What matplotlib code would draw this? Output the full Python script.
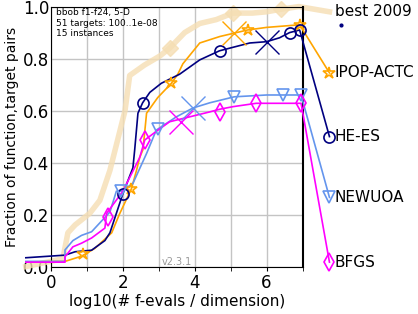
import matplotlib
matplotlib.use('Agg')
import matplotlib.pyplot as plt

# data (x: log10(#f-evals / dimension), y: fraction)
best_x = [-0.7, 0.33, 0.47, 0.67, 1.08, 1.36, 1.64, 1.86, 2.06, 2.19, 2.6, 3.03, 3.3,
          3.72, 4.14, 4.6, 5.06, 5.6, 6.0, 6.4, 6.9, 7.75]
best_y = [0.0, 0.03, 0.13, 0.16, 0.205, 0.255, 0.37, 0.49, 0.6, 0.735, 0.775, 0.81, 0.84,
          0.9, 0.935, 0.95, 0.975, 0.975, 0.98, 0.99, 1.0, 0.98]
best_mark_x = [3.3, 5.06, 6.4]
best_mark_y = [0.84, 0.975, 0.99]

ipop_x = [-0.7, 0.39, 0.85, 1.22, 1.69, 1.9, 2.24, 2.38, 2.47, 2.56, 2.66, 2.97, 3.35,
          3.53, 3.67, 4.14, 4.7, 5.47, 6.0, 6.92, 7.75]
ipop_y = [0.018, 0.02, 0.04, 0.07, 0.13, 0.2, 0.30, 0.37, 0.42, 0.45, 0.59, 0.65, 0.705,
          0.74, 0.78, 0.86, 0.885, 0.91, 0.92, 0.93, 0.745]
ipop_mark_x = [0.9, 2.24, 3.35, 5.47, 6.92, 7.75]
ipop_mark_y = [0.05, 0.30, 0.705, 0.91, 0.93, 0.745]

hees_x = [-0.7, 0.39, 0.67, 1.13, 1.5, 1.64, 2.0, 2.28, 2.33, 2.42, 2.55, 2.75, 3.07,
          3.58, 4.14, 4.69, 5.53, 6.0, 6.36, 6.64, 6.92, 7.75]
hees_y = [0.034, 0.044, 0.057, 0.063, 0.10, 0.13, 0.28, 0.38, 0.45, 0.59, 0.63, 0.67, 0.705,
          0.74, 0.795, 0.83, 0.86, 0.865, 0.88, 0.90, 0.91, 0.50]
hees_mark_x = [2.0, 2.55, 4.69, 6.64, 6.92, 7.75]
hees_mark_y = [0.28, 0.63, 0.83, 0.90, 0.91, 0.50]

newuoa_x = [-0.7, 0.39, 0.39, 0.61, 0.85, 1.13, 1.64, 1.82, 1.96, 2.28, 2.66, 2.93, 3.49,
            3.95, 4.42, 5.1, 6.0, 6.45, 6.96, 7.75]
newuoa_y = [0.02, 0.02, 0.064, 0.10, 0.12, 0.134, 0.21, 0.29, 0.29, 0.32, 0.435, 0.525, 0.576,
            0.61, 0.63, 0.653, 0.66, 0.66, 0.66, 0.266]
newuoa_mark_x = [1.96, 2.97, 5.1, 6.45, 6.96, 7.75]
newuoa_mark_y = [0.29, 0.53, 0.653, 0.66, 0.66, 0.266]

bfgs_x = [-0.7, 0.39, 0.39, 0.61, 0.85, 1.13, 1.5, 1.55, 2.0, 2.47, 2.61, 2.93, 3.3,
          3.86, 4.42, 4.69, 5.06, 5.71, 6.96, 7.75]
bfgs_y = [0.017, 0.017, 0.038, 0.076, 0.09, 0.11, 0.148, 0.205, 0.29, 0.42, 0.487, 0.52, 0.557,
          0.576, 0.595, 0.605, 0.615, 0.628, 0.628, 0.017]
bfgs_mark_x = [1.6, 2.61, 4.69, 5.71, 6.96, 7.75]
bfgs_mark_y = [0.19, 0.487, 0.595, 0.628, 0.628, 0.017]

# median markers (big crosses)
cross_x = [5.1, 6.0, 3.94, 3.63]
cross_y = [0.90, 0.865, 0.61, 0.557]

labels = ['best 2009', 'IPOP-ACTC', 'HE-ES', 'NEWUOA', 'BFGS']
label_y = [0.98, 0.745, 0.50, 0.266, 0.017]

fig = plt.figure(figsize=(4.18, 3.14), dpi=100)
ax = fig.add_axes([0.122, 0.151, 0.6017, 0.828])

ax.plot(best_x, best_y, color='wheat', lw=4, alpha=0.8, clip_on=False, zorder=1)
ax.plot(best_mark_x, best_mark_y, ls='none', marker='D', ms=8, color='wheat',
        alpha=0.8, clip_on=False, zorder=1)

series = [
    (ipop_x, ipop_y, ipop_mark_x, ipop_mark_y, 'orange', '*', 9),
    (hees_x, hees_y, hees_mark_x, hees_mark_y, 'navy', 'o', 8),
    (newuoa_x, newuoa_y, newuoa_mark_x, newuoa_mark_y, 'cornflowerblue', 'v', 8),
    (bfgs_x, bfgs_y, bfgs_mark_x, bfgs_mark_y, 'magenta', 'd', 9),
]
for xs, ys, mx, my, c, m, ms in series:
    ax.plot(xs, ys, color=c, lw=1.2, clip_on=False, zorder=3)
    ax.plot(mx, my, ls='none', marker=m, ms=ms, mfc='none', mec=c, mew=1.2,
            clip_on=False, zorder=4)

for (x, y), c in zip(zip(cross_x, cross_y), ['orange', 'navy', 'cornflowerblue', 'magenta']):
    ax.plot([x], [y], marker='x', ms=17, mew=1.0, color=c, ls='none', zorder=4)

ax.plot([8.06], [0.93], marker='o', ms=2, color='navy', ls='none', clip_on=False)

for lab, y in zip(labels, label_y):
    ax.text(7.9, y, lab, fontsize=11, va='center', ha='left')

ax.set_xlim(0, 7)
ax.set_ylim(0, 1)
ax.set_xticks([0, 2, 4, 6])
ax.set_xticks([1, 3, 5, 7], minor=True)
ax.set_yticks([0, 0.2, 0.4, 0.6, 0.8, 1.0])
ax.tick_params(labelsize=12)
ax.tick_params(axis='x', which='both', length=3, pad=2)
ax.tick_params(axis='y', length=0, pad=1)
ax.grid(True, which='both', color='#c4c4c4', lw=1)
ax.set_axisbelow(True)
ax.spines['right'].set_linewidth(1.5)
ax.set_xlabel('log10(# f-evals / dimension)', fontsize=11, labelpad=2)
ax.set_ylabel('Fraction of function,target pairs', fontsize=10, labelpad=3)

ax.text(0.02, 0.994, 'bbob f1-f24, 5-D\n51 targets: 100..1e-08\n15 instances',
        transform=ax.transAxes, fontsize=6.5, va='top', ha='left')
ax.text(3.5, 0.018, 'v2.3.1', fontsize=7, color='#999999', ha='center', va='center')

fig.savefig('out.png', dpi=100)
